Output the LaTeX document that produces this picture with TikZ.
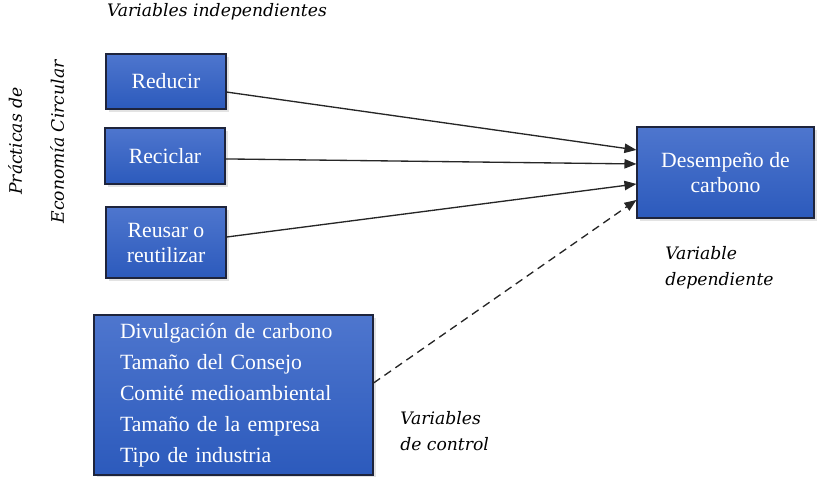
\documentclass[tikz,border=0pt]{standalone}
\usepackage{fontspec}
\setmainfont{Liberation Serif}
\newfontfamily\notefont{DejaVu Serif}
\usepackage{tikz}
\usetikzlibrary{arrows.meta, shadows, positioning}

\definecolor{boxtop}{RGB}{78,118,206}
\definecolor{boxbot}{RGB}{44,90,188}
\definecolor{boxline}{RGB}{30,36,60}

\tikzset{
    varbox/.style={rectangle, draw=boxline, line width=0.8pt,
        top color=boxtop, bottom color=boxbot, text=white,
        align=center, inner sep=0pt,
        font=\fontsize{16.3}{18.75}\selectfont,
        drop shadow={opacity=0.22, shadow xshift=2.5pt, shadow yshift=-2.5pt}},
    note/.style={font=\notefont\itshape\fontsize{12.9}{19.5}\selectfont, text=black, inner sep=0pt},
    link/.style={line width=1pt, draw=black!85, -{Triangle[length=9pt, width=7pt]}},
}

\begin{document}
\begin{tikzpicture}[x=0.75pt, y=-0.75pt]
                        \useasboundingbox (0,0) rectangle (817,477);
                        % boxes
                        \node[varbox, minimum width=90pt, minimum height=41.25pt] (reducir) at (166, 81.5) {Reducir};
                        \node[varbox, minimum width=90pt, minimum height=42pt] (reciclar) at (165, 156) {Reciclar};
                        \node[varbox, minimum width=90pt, minimum height=53.25pt] (reusar) at (166, 242.5) {Reusar o\\reutilizar};
                        \node[varbox, minimum width=132.75pt, minimum height=68.25pt] (desem) at (725.5, 172.5) {Desempeño de\\carbono};
                        \node[varbox, minimum width=209.25pt, minimum height=120pt, text width=170.25pt, align=left,
                            font=\fontsize{16.3}{23.25}\selectfont] (control) at (233.5, 395)
                            {Divulgación de carbono\\Tamaño del Consejo\\Comité medioambiental\\Tamaño de la empresa\\Tipo de industria};
                        % labels
                        \node[note] (indep) at (217, 12) {Variables independientes};
                        \node[note, rotate=90] (practicas) at (15, 141) {Prácticas de};
                        \node[note, rotate=90] (economia) at (57, 142) {Economía Circular};
                        \node[note, align=left, anchor=west] (dep) at (665, 267.5) {Variable\\dependiente};
                        \node[note, align=left, anchor=west] (ctrl) at (400, 431.5) {Variables\\de control};
                        % arrows
                        \draw
                        ([yshift=-7.9pt]reducir.east) edge[link] ([yshift=16.9pt]desem.west)
                        ([yshift=-2.2pt]reciclar.east) edge[link] ([yshift=6.4pt]desem.west)
                        ([yshift=4.1pt]reusar.east) edge[link] ([yshift=-8.6pt]desem.west)
                        ([yshift=9pt]control.east) edge[link, dash pattern=on 6pt off 4pt] ([yshift=-20.6pt]desem.west);
                    \end{tikzpicture}
\end{document}
